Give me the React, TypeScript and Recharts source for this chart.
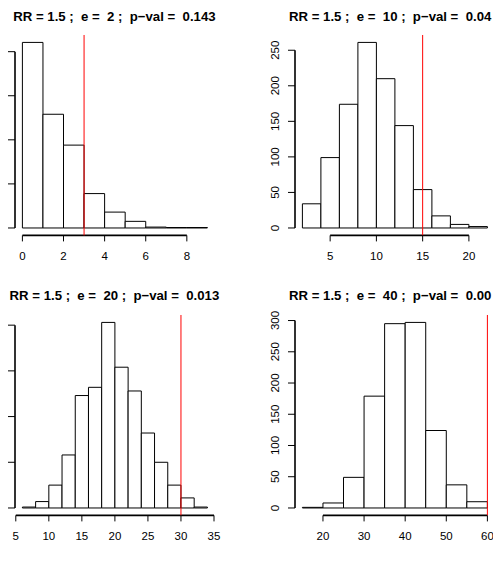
import React from 'react'
import { ComposedChart, XAxis, YAxis, ReferenceArea, Line } from 'recharts'

// e = 2
const BREAKS_E2 = [0, 1, 2, 3, 4, 5, 6, 7, 8, 9]
const COUNTS_E2 = [421, 258, 188, 78, 36, 15, 2, 1, 1]
const XTICKS_E2 = [0, 2, 4, 6, 8]
const YTICKS_E2 = [0, 100, 200, 300, 400]
const OBSERVED_E2 = 3

// e = 10
const BREAKS_E10 = [2, 4, 6, 8, 10, 12, 14, 16, 18, 20, 22]
const COUNTS_E10 = [34, 99, 174, 261, 210, 144, 54, 17, 5, 2]
const XTICKS_E10 = [5, 10, 15, 20]
const YTICKS_E10 = [0, 50, 100, 150, 200, 250]
const OBSERVED_E10 = 15

// e = 20
const BREAKS_E20 = [6, 8, 10, 12, 14, 16, 18, 20, 22, 24, 26, 28, 30, 32, 34]
const COUNTS_E20 = [1, 7, 25, 58, 123, 132, 203, 154, 128, 82, 50, 25, 11, 1]
const XTICKS_E20 = [5, 10, 15, 20, 25, 30, 35]
const YTICKS_E20 = [0, 50, 100, 150, 200]
const OBSERVED_E20 = 30

// e = 40
const BREAKS_E40 = [15, 20, 25, 30, 35, 40, 45, 50, 55, 60]
const COUNTS_E40 = [1, 8, 49, 179, 295, 297, 124, 37, 10]
const XTICKS_E40 = [20, 30, 40, 50, 60]
const YTICKS_E40 = [0, 50, 100, 150, 200, 250, 300]
const OBSERVED_E40 = 60

const TITLE_E2 = 'RR = 1.5 ;  e =  2 ;  p\u2212val =  0.143'
const TITLE_E10 = 'RR = 1.5 ;  e =  10 ;  p\u2212val =  0.04'
const TITLE_E20 = 'RR = 1.5 ;  e =  20 ;  p\u2212val =  0.013'
const TITLE_E40 = 'RR = 1.5 ;  e =  40 ;  p\u2212val =  0.00'

const FONT = '"Liberation Sans", Arial, Helvetica, sans-serif'
const PLOT_W = 199.8
const PLOT_H = 200.4
const AXIS_W = 40
const AXIS_H = 45
const TOP = 35
const RIGHT = 10
const TICK_FONT = 11.5

function XTick(props: any) {
  const { x, y, payload } = props
  return (
    <text x={x} y={y + 19} textAnchor="middle" fontSize={TICK_FONT} fontFamily={FONT} fill="#000">
      {payload.value}
    </text>
  )
}

function YTick(props: any) {
  const { x, y, payload } = props
  return (
    <text
      transform={`translate(${x - 9}, ${y}) rotate(-90)`}
      textAnchor="middle"
      fontSize={TICK_FONT}
      fontFamily={FONT}
      fill="#000"
    >
      {payload.value}
    </text>
  )
}

// tick mark only; the labels of the left column sit outside the page
function BlankTick() {
  return <g />
}

interface HistProps {
  left: number
  top: number
  breaks: number[]
  counts: number[]
  xTicks: number[]
  yTicks: number[]
  observed: number
  yLabels?: boolean
}

// R-style hist(): 4% padding on both axes, axis lines run only from first to last tick
function Histogram({ left, top, breaks, counts, xTicks, yTicks, observed, yLabels = true }: HistProps) {
  const lo = breaks[0]
  const hi = breaks[breaks.length - 1]
  const span = hi - lo
  const xDomain = [lo - 0.04 * span, hi + 0.04 * span]
  const maxCount = Math.max(...counts)
  const yDomain = [-0.04 * maxCount, 1.04 * maxCount]
  const bins = counts.map((count, i) => ({ x: breaks[i], x1: breaks[i + 1], count }))

  const xAxisLine = [
    { x: xTicks[0], v: yDomain[0] },
    { x: xTicks[xTicks.length - 1], v: yDomain[0] },
  ]
  const yAxisLine = [
    { x: xDomain[0], v: yTicks[0] },
    { x: xDomain[0], v: yTicks[yTicks.length - 1] },
  ]
  // abline(v = observed) spans the whole plot region
  const observedLine = [
    { x: observed, v: yDomain[0] },
    { x: observed, v: yDomain[1] },
  ]

  return (
    <div style={{ position: 'absolute', left: left - AXIS_W, top }}>
      <ComposedChart
        width={AXIS_W + PLOT_W + RIGHT}
        height={TOP + PLOT_H + AXIS_H}
        data={bins}
        margin={{ top: TOP, right: RIGHT, bottom: 0, left: 0 }}
      >
        <XAxis
          type="number"
          dataKey="x"
          domain={xDomain}
          ticks={xTicks}
          interval={0}
          height={AXIS_H}
          axisLine={false}
          tickLine={{ stroke: '#000' }}
          tickSize={6}
          tickMargin={0}
          tick={<XTick />}
        />
        <YAxis
          type="number"
          domain={yDomain}
          ticks={yTicks}
          interval={0}
          width={AXIS_W}
          axisLine={false}
          tickLine={{ stroke: '#000' }}
          tickSize={7}
          tickMargin={0}
          tick={yLabels ? <YTick /> : <BlankTick />}
        />
        {bins.map((b) => (
          <ReferenceArea
            key={b.x}
            x1={b.x}
            x2={b.x1}
            y1={0}
            y2={b.count}
            fill="#fff"
            fillOpacity={1}
            stroke="#000"
            strokeWidth={1}
            ifOverflow="visible"
          />
        ))}
        <Line data={xAxisLine} dataKey="v" stroke="#000" strokeWidth={1.6} dot={false} isAnimationActive={false} />
        <Line data={yAxisLine} dataKey="v" stroke="#000" strokeWidth={1.6} dot={false} isAnimationActive={false} />
        <Line data={observedLine} dataKey="v" stroke="#ff0000" strokeWidth={1} dot={false} isAnimationActive={false} />
      </ComposedChart>
    </div>
  )
}

const LEFT_COL = 14.5
const RIGHT_COL = 294.5
const TOP_ROW = 0
const BOTTOM_ROW = 279.8

export default function App() {
  return (
    <div
      style={{
        position: 'absolute',
        left: 0,
        top: 0,
        width: 493,
        height: 562,
        overflow: 'hidden',
        background: '#fff',
      }}
    >
      <Histogram left={LEFT_COL} top={TOP_ROW} breaks={BREAKS_E2} counts={COUNTS_E2} xTicks={XTICKS_E2} yTicks={YTICKS_E2} observed={OBSERVED_E2} yLabels={false} />
      <Histogram left={RIGHT_COL} top={TOP_ROW} breaks={BREAKS_E10} counts={COUNTS_E10} xTicks={XTICKS_E10} yTicks={YTICKS_E10} observed={OBSERVED_E10} />
      <Histogram left={LEFT_COL} top={BOTTOM_ROW} breaks={BREAKS_E20} counts={COUNTS_E20} xTicks={XTICKS_E20} yTicks={YTICKS_E20} observed={OBSERVED_E20} yLabels={false} />
      <Histogram left={RIGHT_COL} top={BOTTOM_ROW} breaks={BREAKS_E40} counts={COUNTS_E40} xTicks={XTICKS_E40} yTicks={YTICKS_E40} observed={OBSERVED_E40} />
      <svg width={493} height={562} style={{ position: 'absolute', left: 0, top: 0, pointerEvents: 'none' }}>
        <g fontFamily={FONT} fontWeight="bold" fontSize={13.2} fill="#000">
          <text xmlSpace="preserve" style={{ whiteSpace: 'pre' }} x={LEFT_COL + PLOT_W / 2} y={20.5} textAnchor="middle">{TITLE_E2}</text>
          <text xmlSpace="preserve" style={{ whiteSpace: 'pre' }} x={289} y={20.5}>{TITLE_E10}</text>
          <text xmlSpace="preserve" style={{ whiteSpace: 'pre' }} x={LEFT_COL + PLOT_W / 2} y={300.3} textAnchor="middle">{TITLE_E20}</text>
          <text xmlSpace="preserve" style={{ whiteSpace: 'pre' }} x={289} y={300.3}>{TITLE_E40}</text>
        </g>
      </svg>
    </div>
  )
}
